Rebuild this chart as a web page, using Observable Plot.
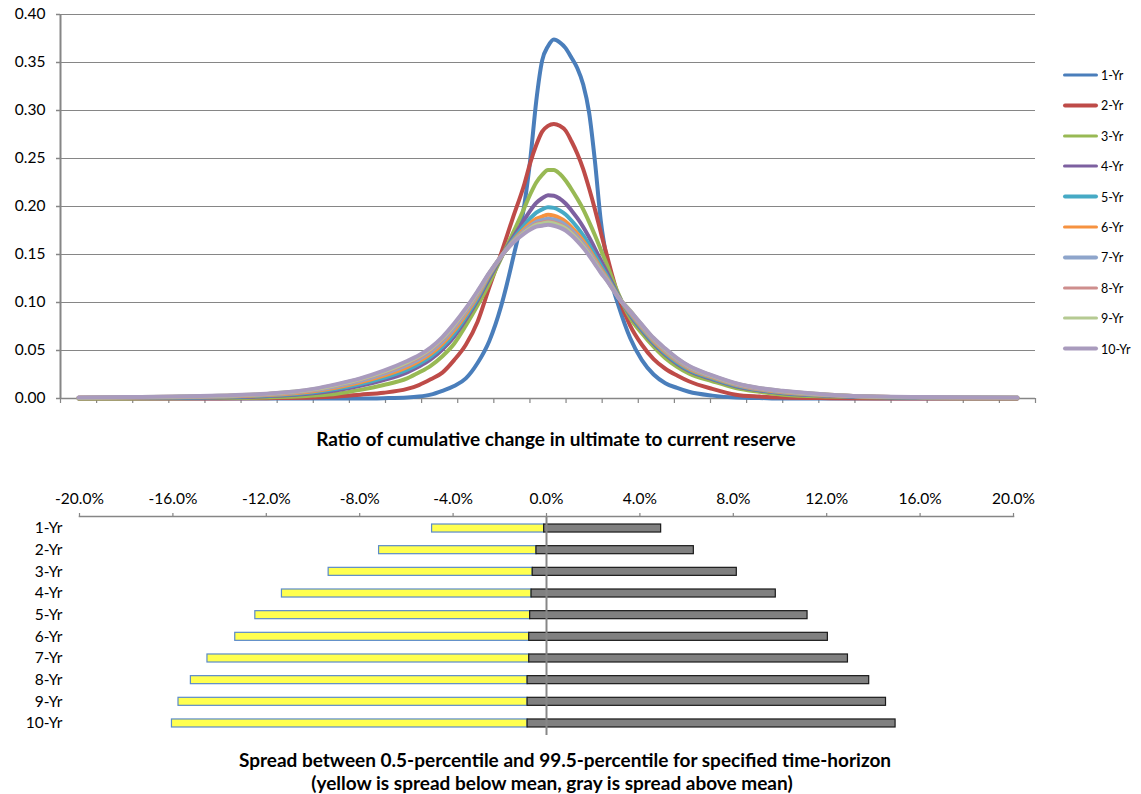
<!DOCTYPE html>
<html>
<head>
<meta charset="utf-8">
<script src="https://cdn.jsdelivr.net/npm/d3@7"></script>
<script src="https://cdn.jsdelivr.net/npm/@observablehq/plot@0.6"></script>
<style>
  body { margin: 0; background: #fff; }
  #chart { position: relative; width: 1141px; height: 794px; font-family: Lato, "Open Sans", sans-serif; color: #000; overflow: hidden; }
  #chart > * { position: absolute; }
  .title { font-weight: bold; font-size: 19px; line-height: 1; white-space: nowrap; transform: translate(-50%, -50%); }
  .legend { left: 1063px; top: 0; }
  .legend-row { position: absolute; left: 0; display: flex; align-items: center; font-size: 12.5px; white-space: nowrap; transform: translateY(-50%); }
  .swatch { display: inline-block; width: 35px; height: 3.5px; border-radius: 2px; margin-right: 3px; }
</style>
</head>
<body>
<div id="chart"></div>
<script>
// Change in ultimate / current reserve (percent) at which each density is read
const xGrid = [-20, -18, -16, -14, -12, -10, -9, -8, -7, -6, -5.5, -5, -4.5, -4, -3.5, -3, -2.5, -2, -1.5, -1,
  -0.75, -0.5, -0.25, 0, 0.25, 0.5, 0.75, 1, 1.25, 1.5, 1.75, 2, 2.25, 2.5, 2.75, 3,
  3.5, 4, 4.5, 5, 5.5, 6, 7, 8, 9, 10, 12, 14, 16, 18, 20];

// Density for each time-horizon, one value per xGrid entry
const yr1 = [0, 0, 0, 0, 0, 0, 0, 0, 0.0003, 0.001, 0.002, 0.004, 0.008, 0.013, 0.021, 0.037, 0.060, 0.096, 0.145, 0.203,
  0.250, 0.310, 0.352, 0.367, 0.374, 0.371, 0.365, 0.355, 0.344, 0.327, 0.298, 0.247, 0.185, 0.146, 0.117, 0.097,
  0.063, 0.040, 0.025, 0.016, 0.011, 0.007, 0.003, 0.001, 0.0005, 0, 0, 0, 0, 0, 0];
const yr2 = [0, 0, 0, 0, 0.0003, 0.001, 0.002, 0.004, 0.006, 0.010, 0.014, 0.020, 0.027, 0.040, 0.056, 0.080, 0.116, 0.151, 0.188, 0.224,
  0.246, 0.264, 0.278, 0.284, 0.286, 0.284, 0.279, 0.268, 0.255, 0.239, 0.219, 0.197, 0.173, 0.150, 0.127, 0.106,
  0.076, 0.056, 0.041, 0.031, 0.024, 0.018, 0.010, 0.004, 0.002, 0.001, 0.0003, 0, 0, 0, 0];
const yr3 = [0, 0, 0.0002, 0.0005, 0.001, 0.003, 0.005, 0.009, 0.014, 0.021, 0.027, 0.034, 0.044, 0.057, 0.076, 0.097, 0.120, 0.146, 0.172, 0.199,
  0.213, 0.225, 0.233, 0.238, 0.238, 0.234, 0.227, 0.218, 0.208, 0.197, 0.184, 0.170, 0.155, 0.140, 0.124, 0.109,
  0.084, 0.068, 0.054, 0.042, 0.033, 0.026, 0.018, 0.011, 0.007, 0.004, 0.002, 0.001, 0.0005, 0.0003, 0.0002];
const yr4 = [0.0004, 0.0005, 0.0007, 0.001, 0.0024, 0.0055, 0.0085, 0.0132, 0.0193, 0.0273, 0.0333, 0.0407, 0.051, 0.0644, 0.0823, 0.1023, 0.1251, 0.1469, 0.1674, 0.1866,
  0.196, 0.2038, 0.2086, 0.2118, 0.2113, 0.2082, 0.2031, 0.1959, 0.1878, 0.1786, 0.1679, 0.1562, 0.144, 0.1322, 0.1194, 0.1072,
  0.0868, 0.0712, 0.0572, 0.0455, 0.0362, 0.0288, 0.0201, 0.0128, 0.0084, 0.0054, 0.0027, 0.0014, 0.0009, 0.0006, 0.0005];
const yr5 = [0.0005, 0.0008, 0.001, 0.0015, 0.003, 0.0065, 0.010, 0.015, 0.0215, 0.030, 0.036, 0.0435, 0.054, 0.0675, 0.085, 0.1045, 0.1275, 0.1474, 0.1652, 0.1806,
  0.1878, 0.1937, 0.197, 0.1992, 0.1986, 0.1959, 0.1916, 0.1854, 0.1781, 0.1698, 0.1602, 0.1496, 0.1387, 0.1284, 0.1172, 0.1063,
  0.088, 0.0725, 0.0585, 0.047, 0.0375, 0.030, 0.021, 0.0135, 0.009, 0.006, 0.003, 0.0015, 0.001, 0.0008, 0.0006];
const yr6 = [0.0007, 0.001, 0.0013, 0.002, 0.0036, 0.0076, 0.0115, 0.0168, 0.0238, 0.0327, 0.0387, 0.0464, 0.057, 0.0707, 0.0877, 0.1068, 0.129, 0.1476, 0.1638, 0.1769,
  0.1827, 0.1873, 0.1895, 0.1913, 0.1904, 0.1881, 0.1844, 0.1786, 0.1719, 0.1642, 0.1553, 0.1454, 0.1353, 0.1261, 0.1158, 0.1057,
  0.0892, 0.0739, 0.0599, 0.0485, 0.0389, 0.0312, 0.0219, 0.0143, 0.0096, 0.0066, 0.0033, 0.0017, 0.0012, 0.0009, 0.0007];
const yr7 = [0.0008, 0.0012, 0.0016, 0.0023, 0.0041, 0.0085, 0.0128, 0.0184, 0.0257, 0.035, 0.041, 0.0488, 0.0596, 0.0734, 0.090, 0.1087, 0.1298, 0.1478, 0.1631, 0.175,
  0.1801, 0.1841, 0.1858, 0.1873, 0.1864, 0.1842, 0.1807, 0.1753, 0.1688, 0.1614, 0.1529, 0.1433, 0.1336, 0.1249, 0.1151, 0.1054,
  0.0902, 0.075, 0.061, 0.0498, 0.040, 0.0322, 0.0227, 0.0149, 0.0101, 0.0071, 0.0036, 0.0018, 0.0013, 0.001, 0.0008];
const yr8 = [0.0009, 0.0013, 0.0018, 0.0026, 0.0045, 0.0092, 0.0138, 0.0196, 0.0272, 0.0368, 0.0428, 0.0507, 0.0616, 0.0755, 0.0918, 0.1102, 0.1303, 0.1479, 0.1626, 0.1736,
  0.1782, 0.1818, 0.1832, 0.1844, 0.1835, 0.1814, 0.1781, 0.1729, 0.1666, 0.1594, 0.1511, 0.1418, 0.1324, 0.124, 0.1146, 0.1052,
  0.091, 0.0759, 0.0619, 0.0508, 0.0409, 0.033, 0.0233, 0.0154, 0.0105, 0.0075, 0.0038, 0.0019, 0.0014, 0.0011, 0.0009];
const yr9 = [0.0009, 0.0014, 0.0019, 0.0028, 0.0048, 0.0096, 0.0144, 0.0203, 0.0281, 0.0379, 0.0439, 0.0519, 0.0628, 0.0767, 0.0929, 0.1111, 0.1306, 0.1479, 0.1624, 0.1731,
  0.1775, 0.1808, 0.1821, 0.1833, 0.1823, 0.1802, 0.1771, 0.1719, 0.1658, 0.1586, 0.1504, 0.1412, 0.132, 0.1237, 0.1144, 0.1052,
  0.0915, 0.0765, 0.0625, 0.0514, 0.0415, 0.0335, 0.0236, 0.0157, 0.0108, 0.0078, 0.0039, 0.0019, 0.0014, 0.0012, 0.001];
const yr10 = [0.001, 0.0015, 0.002, 0.003, 0.005, 0.010, 0.015, 0.021, 0.029, 0.039, 0.045, 0.053, 0.064, 0.078, 0.094, 0.112, 0.131, 0.148, 0.162, 0.172,
  0.176, 0.179, 0.180, 0.181, 0.180, 0.178, 0.175, 0.170, 0.164, 0.157, 0.149, 0.140, 0.131, 0.123, 0.114, 0.105,
  0.091, 0.077, 0.063, 0.052, 0.042, 0.034, 0.024, 0.016, 0.011, 0.008, 0.004, 0.002, 0.0015, 0.0012, 0.001];

const horizons = ["1-Yr", "2-Yr", "3-Yr", "4-Yr", "5-Yr", "6-Yr", "7-Yr", "8-Yr", "9-Yr", "10-Yr"];
const horizonColors = ["#4A7EBB", "#BE4B48", "#98B954", "#7D60A0", "#46AAC5", "#F69240", "#8EA5CB", "#CE8E8D", "#B5CA92", "#A99BBD"];

// 0.5-percentile, mean and 99.5-percentile of the ratio (percent) by time-horizon
const pctLow = [-4.90, -7.17, -9.33, -11.33, -12.47, -13.33, -14.52, -15.23, -15.76, -16.04];
const pctMean = [-0.10, -0.43, -0.59, -0.64, -0.70, -0.74, -0.74, -0.81, -0.81, -0.81];
const pctHigh = [4.91, 6.31, 8.15, 9.82, 11.18, 12.05, 12.91, 13.82, 14.54, 14.95];

const densityTicks = [0, 0.05, 0.10, 0.15, 0.20, 0.25, 0.30, 0.35, 0.40];
const spreadTicks = [-20, -16, -12, -8, -4, 0, 4, 8, 12, 16, 20];

const axisGray = "#868686";
const fontFamily = "Lato, 'Open Sans', sans-serif";

const densityValues = [yr1, yr2, yr3, yr4, yr5, yr6, yr7, yr8, yr9, yr10];
const densityRows = horizons.flatMap((h, i) => xGrid.map((x, j) => ({horizon: h, x, density: densityValues[i][j]})));

// Category-style x axis: the curves run from -20% to 20% with half a step of room at each end
const halfStep = 20 / 26;
const xLo = -20 - halfStep, xHi = 20 + halfStep;
const categoryTicks = d3.range(28).map(k => xLo + k * 2 * halfStep);

const chart = document.getElementById("chart");

const densityPlot = Plot.plot({
  width: 1141,
  height: 412,
  marginLeft: 60,
  marginRight: 106,
  marginTop: 14,
  marginBottom: 14,
  style: {fontFamily, fontSize: "15.5px", color: "#000", background: "#fff"},
  x: {domain: [xLo, xHi], label: null},
  y: {domain: [0, 0.4], label: null},
  color: {domain: horizons, range: horizonColors},
  marks: [
    Plot.gridY(densityTicks, {stroke: axisGray, strokeOpacity: 1, strokeWidth: 1}),
    Plot.axisY(densityTicks, {tickSize: 4, tickPadding: 11, tickFormat: d => d.toFixed(2), stroke: axisGray, strokeWidth: 1.5, fill: "#000", label: null}),
    Plot.axisX(categoryTicks, {tickSize: 5, stroke: axisGray, strokeWidth: 1.2, fill: "none", label: null}),
    Plot.ruleY([0], {stroke: axisGray, strokeWidth: 1.5}),
    Plot.ruleX([xLo], {stroke: axisGray, strokeWidth: 2}),
    Plot.line(densityRows, {x: "x", y: "density", z: "horizon", stroke: "horizon", curve: "monotone-x", strokeWidth: 4, strokeLinecap: "round", strokeLinejoin: "round"})
  ]
});
densityPlot.style.left = "0px";
densityPlot.style.top = "0px";
chart.appendChild(densityPlot);

// Legend for the density curves
const legend = document.createElement("div");
legend.className = "legend";
horizons.forEach((h, i) => {
  const row = document.createElement("div");
  row.className = "legend-row";
  row.style.top = (75 + 30.4 * i) + "px";
  const sw = document.createElement("span");
  sw.className = "swatch";
  sw.style.background = horizonColors[i];
  const label = document.createElement("span");
  label.textContent = h;
  row.append(sw, label);
  legend.appendChild(row);
});
chart.appendChild(legend);

const spreadRows = horizons.map((h, i) => ({horizon: h, low: pctLow[i], mean: pctMean[i], high: pctHigh[i]}));

const spreadPlot = Plot.plot({
  width: 1141,
  height: 280,
  marginLeft: 79,
  marginRight: 128,
  marginTop: 46,
  marginBottom: 15,
  style: {fontFamily, fontSize: "15.5px", color: "#000", background: "transparent"},
  x: {domain: [-20, 20], label: null},
  y: {domain: horizons, paddingInner: 0.63, paddingOuter: 0.37, round: false, label: null},
  marks: [
    Plot.frame({anchor: "top", stroke: axisGray, strokeWidth: 1.5}),
    Plot.axisX(spreadTicks, {anchor: "top", tickSize: 4, tickPadding: 9, tickFormat: d => d.toFixed(1) + "%", stroke: axisGray, strokeWidth: 1.2, fill: "#000", label: null}),
    Plot.axisY({tickSize: 0, tickPadding: 17, fill: "#000", label: null}),
    Plot.barX(spreadRows, {y: "horizon", x1: "low", x2: "mean", fill: "#FFFF4F", stroke: "#5B8BC9", strokeWidth: 1.2}),
    Plot.barX(spreadRows, {y: "horizon", x1: "mean", x2: "high", fill: "#808080", stroke: "#1a1a1a", strokeWidth: 1.2}),
    Plot.ruleX([0], {stroke: axisGray, strokeWidth: 2})
  ]
});
spreadPlot.style.left = "0px";
spreadPlot.style.top = "470px";
chart.appendChild(spreadPlot);

// Chart titles
[
  {text: "Ratio of cumulative change in ultimate to current reserve", x: 556, y: 438},
  {text: "Spread between 0.5-percentile and 99.5-percentile for specified time-horizon", x: 565, y: 759},
  {text: "(yellow is spread below mean, gray is spread above mean)", x: 552, y: 782}
].forEach(t => {
  const d = document.createElement("div");
  d.className = "title";
  d.textContent = t.text;
  d.style.left = t.x + "px";
  d.style.top = t.y + "px";
  chart.appendChild(d);
});
</script>
</body>
</html>
